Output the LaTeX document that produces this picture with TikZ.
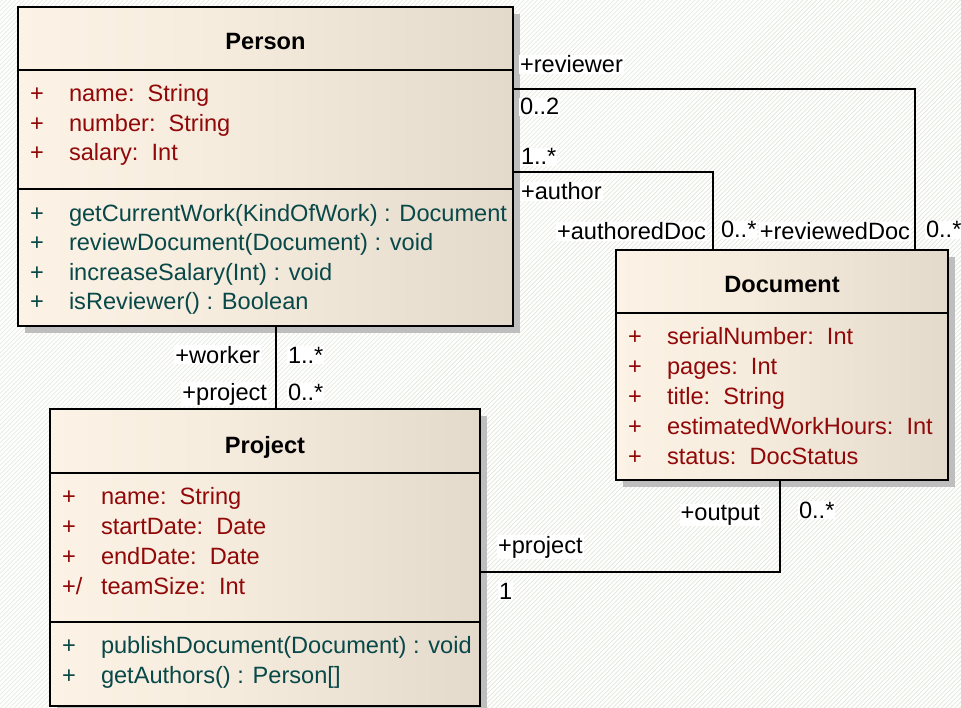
\documentclass[tikz,border=0pt]{standalone}
\usepackage{fontspec}
\setmainfont{Liberation Sans}
\definecolor{boxL}{RGB}{252,242,229}
\definecolor{boxM}{RGB}{246,236,222}
\definecolor{boxR}{RGB}{228,218,204}
\definecolor{shadowgray}{RGB}{190,190,190}
\definecolor{attrred}{RGB}{145,8,8}
\definecolor{methteal}{RGB}{8,72,72}
\definecolor{hatchcol}{RGB}{226,230,218}
\pgfdeclarehorizontalshading{boxshade}{100bp}{color(0bp)=(boxL); color(25bp)=(boxL); color(45bp)=(boxM); color(75bp)=(boxR); color(100bp)=(boxR)}
\tikzset{
  txt/.style={font=\fontsize{23.6}{28}\selectfont, inner sep=0pt, outer sep=0pt, anchor=base west},
  umlbox/.style={draw=black, line width=2pt, shading=boxshade, anchor=north west, inner sep=0pt, outer sep=0pt},
  divider/.style={line width=2pt},
  ttl/.style={font=\fontsize{23.6}{28}\selectfont\bfseries, inner sep=0pt, anchor=base},
  attr/.style={txt, text=attrred},
  meth/.style={txt, text=methteal},
  lbl/.style={txt, fill=white, inner sep=1pt, text=black},
  lble/.style={lbl, anchor=base east},
  conn/.style={line width=2pt},
}
\begin{document}
\begin{tikzpicture}[x=1pt,y=-1pt]
\useasboundingbox (0,0) rectangle (961,708);
% background hatch
\fill[white] (0,0) rectangle (961,708);
\begin{scope}
\clip (0,0) rectangle (961,708);
\foreach \a in {-715,-710.5,...,965} \draw[hatchcol, line width=0.7pt] (\a,708) -- ++(708,-708);
\end{scope}

% shadows
\fill[shadowgray] (25,14) rectangle (520,333);
\fill[shadowgray] (623,257) rectangle (955,487);
\fill[shadowgray] (57,416) rectangle (487,713);

% Person
\node[umlbox, minimum width=495pt, minimum height=319pt] (person) at (18,7) {};
\draw[divider] (person.west |- 0,70) -- (person.east |- 0,70);
\draw[divider] (person.west |- 0,189) -- (person.east |- 0,189);
\node[ttl] (pt) at (265.5,50) {Person};
\node[attr] (pa1s) at (30,102) {+};
\node[attr] (pa1) at (69,102) {name:\ \ String};
\node[attr] (pa2s) at (30,132) {+};
\node[attr] (pa2) at (69,132) {number:\ \ String};
\node[attr] (pa3s) at (30,161) {+};
\node[attr] (pa3) at (69,161) {salary:\ \ Int};
\node[meth] (pm1s) at (30,222) {+};
\node[meth] (pm1) at (69,222) {getCurrentWork(KindOfWork) : Document};
\node[meth] (pm2s) at (30,251) {+};
\node[meth] (pm2) at (69,251) {reviewDocument(Document) : void};
\node[meth] (pm3s) at (30,281) {+};
\node[meth] (pm3) at (69,281) {increaseSalary(Int) : void};
\node[meth] (pm4s) at (30,310) {+};
\node[meth] (pm4) at (69,310) {isReviewer() : Boolean};

% Document
\node[umlbox, minimum width=332pt, minimum height=230pt] (document) at (616,250) {};
\draw[divider] (document.west |- 0,313) -- (document.east |- 0,313);
\node[ttl] (dt) at (782,293) {Document};
\node[attr] (da1s) at (628,345) {+};
\node[attr] (da1) at (667,345) {serialNumber:\ \ Int};
\node[attr] (da2s) at (628,375) {+};
\node[attr] (da2) at (667,375) {pages:\ \ Int};
\node[attr] (da3s) at (628,405) {+};
\node[attr] (da3) at (667,405) {title:\ \ String};
\node[attr] (da4s) at (628,434) {+};
\node[attr] (da4) at (667,434) {estimatedWorkHours:\ \ Int};
\node[attr] (da5s) at (628,464) {+};
\node[attr] (da5) at (667,464) {status:\ \ DocStatus};

% Project
\node[umlbox, minimum width=430pt, minimum height=297pt] (project) at (50,409) {};
\draw[divider] (project.west |- 0,473) -- (project.east |- 0,473);
\draw[divider] (project.west |- 0,622) -- (project.east |- 0,622);
\node[ttl] (jt) at (265,453) {Project};
\node[attr] (ja1s) at (62,504) {+};
\node[attr] (ja1) at (101,504) {name:\ \ String};
\node[attr] (ja2s) at (62,534) {+};
\node[attr] (ja2) at (101,534) {startDate:\ \ Date};
\node[attr] (ja3s) at (62,564) {+};
\node[attr] (ja3) at (101,564) {endDate:\ \ Date};
\node[attr] (ja4s) at (62,594) {+/};
\node[attr] (ja4) at (101,594) {teamSize:\ \ Int};
\node[meth] (jm1s) at (62,653) {+};
\node[meth] (jm1) at (101,653) {publishDocument(Document) : void};
\node[meth] (jm2s) at (62,683) {+};
\node[meth] (jm2) at (101,683) {getAuthors() : Person[]};

% connectors
\draw[conn] (person.east |- 0,89) -| (document.north -| 915,0);
\draw[conn] (person.east |- 0,172) -| (document.north -| 713,0);
\draw[conn] (person.south -| 276,0) -- (project.north -| 276,0);
\draw[conn] (project.east |- 0,572) -| (document.south -| 780,0);

% labels
\node[lbl] (l1) at (519,73) {+reviewer};
\node[lbl] (l2) at (519,115) {0..2};
\node[lbl] (l3) at (520,165) {1..*};
\node[lbl] (l4) at (520,200) {+author};
\node[lble] (l5) at (707,240) {+authoredDoc};
\node[lbl] (l6) at (720,238) {0..*};
\node[lble] (l7) at (911,240) {+reviewedDoc};
\node[lbl] (l8) at (925,238) {0..*};
\node[lble] (l9) at (261,363) {+worker};
\node[lbl] (l10) at (287,363) {1..*};
\node[lble] (l11) at (268,400) {+project};
\node[lbl] (l12) at (287,400) {0..*};
\node[lble] (l13) at (761,520) {+output};
\node[lbl] (l14) at (798,518) {0..*};
\node[lbl] (l15) at (497,553) {+project};
\node[lbl] (l16) at (498,599) {1};
\end{tikzpicture}
\end{document}
